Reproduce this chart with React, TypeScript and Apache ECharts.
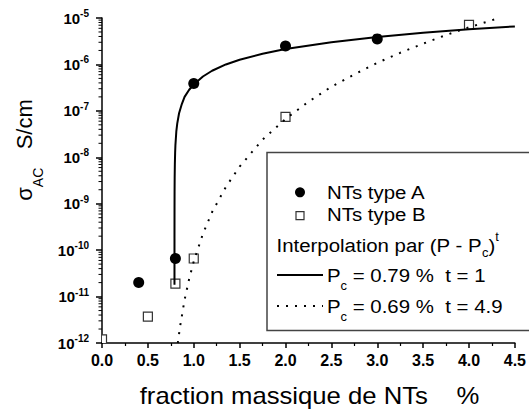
import React, { useEffect, useRef } from "react";
import * as echarts from "echarts";

// ---------- data ----------
const typeAX = [0.4, 0.8, 1.0, 2.0, 3.0];
const typeAY = [2.0e-11, 6.6e-11, 3.9e-7, 2.5e-6, 3.55e-6];

const typeBX = [0.0, 0.5, 0.8, 1.0, 2.0, 4.0];
const typeBY = [1.2e-12, 3.7e-12, 1.9e-11, 6.6e-11, 7.4e-8, 7.1e-6];

// solid fit curve (Pc = 0.79 %, t = 1)
const fitAX = [0.79001, 0.7901, 0.7905, 0.791, 0.792, 0.794, 0.797, 0.8, 0.81, 0.82, 0.84, 0.87, 0.9, 0.95, 1.0, 1.1, 1.2, 1.35, 1.5, 1.75, 2.0, 2.5, 3.0, 3.5, 4.0, 4.5];
const fitAY = [1.8e-11, 1.8e-10, 8.9e-10, 1.8e-9, 3.6e-9, 7.1e-9, 1.25e-8, 1.8e-8, 3.6e-8, 5.3e-8, 8.9e-8, 1.4e-7, 2.0e-7, 2.85e-7, 3.7e-7, 5.5e-7, 7.3e-7, 1.0e-6, 1.26e-6, 1.7e-6, 2.15e-6, 3.0e-6, 3.9e-6, 4.8e-6, 5.7e-6, 6.6e-6];

// dotted fit curve (Pc = 0.69 %, t = 4.9)
const fitBX = [0.826, 0.85, 0.9, 0.95, 1.0, 1.1, 1.2, 1.35, 1.5, 1.75, 2.0, 2.25, 2.5, 2.75, 3.0, 3.25, 3.5, 3.75, 4.0, 4.3];
const fitBY = [1.0e-12, 2.2e-12, 8.5e-12, 2.4e-11, 5.7e-11, 2.25e-10, 6.6e-10, 2.3e-9, 6.3e-9, 2.4e-8, 6.7e-8, 1.57e-7, 3.3e-7, 6.1e-7, 1.08e-6, 1.78e-6, 2.8e-6, 4.3e-6, 6.3e-6, 9.6e-6];

const xTickLabels = ["0.0", "0.5", "1.0", "1.5", "2.0", "2.5", "3.0", "3.5", "4.0", "4.5"];
const yDecades = [-12, -11, -10, -9, -8, -7, -6, -5];
const minorMultipliers = [2, 3, 4, 5, 6, 7, 8, 9];

const FONT = '"Liberation Sans", Arial, Helvetica, sans-serif';
const LEGEND_SCALE = 1.075;

export default function App() {
  const ref = useRef<HTMLDivElement>(null);

  useEffect(() => {
    if (!ref.current) return;
    const chart = echarts.init(ref.current, null, { renderer: "svg" });

    // minor (log) tick positions of the y axis: 2..9 x 10^d
    const minorY: number[] = [];
    yDecades.slice(0, -1).forEach((d) => {
      minorMultipliers.forEach((m) => minorY.push(Number((m * Math.pow(10, d)).toPrecision(3))));
    });

    const legendText = (x: number, y: number, text: string, rich?: any) => ({
      type: "text",
      z: 101,
      x,
      y,
      scaleX: LEGEND_SCALE,
      style: {
        text,
        fontSize: 19,
        fontFamily: FONT,
        fill: "#000",
        align: "left",
        verticalAlign: "middle",
        rich,
      },
    });

    const subRich = {
      m: { fontSize: 19, fontFamily: FONT, lineHeight: 34, verticalAlign: "middle", fill: "#000" },
      sub: { fontSize: 12, fontFamily: FONT, lineHeight: 12, verticalAlign: "bottom", fill: "#000" },
    };

    const option: any = {
      animation: false,
      backgroundColor: "#fff",
      grid: { left: 102, top: 18, width: 415, height: 325 },
      xAxis: {
        type: "value",
        min: 0,
        max: 4.5,
        interval: 0.5,
        splitLine: { show: false },
        axisLine: { show: true, onZero: false, lineStyle: { color: "#000", width: 1.5 } },
        axisTick: { show: true, inside: false, length: 5, lineStyle: { color: "#000", width: 1.5 } },
        minorTick: { show: true, splitNumber: 2, length: 3, lineStyle: { color: "#000", width: 1.2 } },
        minorSplitLine: { show: false },
        axisLabel: {
          margin: 9,
          color: "#000",
          fontFamily: FONT,
          fontWeight: "bold",
          fontSize: 16,
          formatter: (v: number) => xTickLabels[Math.round(v / 0.5)] ?? "",
        },
      },
      yAxis: {
        type: "log",
        logBase: 10,
        min: 1e-12,
        max: 1e-5,
        splitLine: { show: false },
        axisLine: { show: true, onZero: false, lineStyle: { color: "#000", width: 1.5 } },
        axisTick: { show: true, inside: false, length: 6, lineStyle: { color: "#000", width: 1.5 } },
        axisLabel: {
          margin: 13,
          color: "#000",
          fontSize: 15,
          fontWeight: "bold",
          fontFamily: FONT,
          formatter: (v: number) => {
            const e = Math.round(Math.log10(v));
            return `{b|10}{s|${e}}`;
          },
          rich: {
            b: { fontSize: 15, fontWeight: "bold", fontFamily: FONT, color: "#000", lineHeight: 19, verticalAlign: "middle" },
            s: { fontSize: 10, fontWeight: "bold", fontFamily: FONT, color: "#000", lineHeight: 10, verticalAlign: "top" },
          },
        },
      },
      series: [
        {
          name: "minor ticks",
          type: "custom",
          coordinateSystem: "cartesian2d",
          clip: false,
          silent: true,
          data: minorY.map((v) => [0, v]),
          renderItem: (params: any, api: any) => {
            const p = api.coord([api.value(0), api.value(1)]);
            return {
              type: "line",
              shape: { x1: p[0] - 3.5, y1: p[1], x2: p[0], y2: p[1] },
              style: { stroke: "#000", lineWidth: 1 },
            };
          },
        },
        {
          name: "NTs type B",
          type: "custom",
          coordinateSystem: "cartesian2d",
          clip: true,
          data: typeBX.map((x, i) => [x, typeBY[i]]),
          renderItem: (params: any, api: any) => {
            const p = api.coord([api.value(0), api.value(1)]);
            return {
              type: "rect",
              shape: { x: p[0] - 4.5, y: p[1] - 4.5, width: 9, height: 9 },
              style: { fill: "#fff", stroke: "#333", lineWidth: 1.2 },
            };
          },
        },
        {
          name: "Pc = 0.79 %",
          type: "line",
          data: fitAX.map((x, i) => [x, fitAY[i]]),
          showSymbol: false,
          symbol: "none",
          clip: true,
          lineStyle: { color: "#000", width: 2 },
        },
        {
          name: "Pc = 0.69 %",
          type: "line",
          data: fitBX.map((x, i) => [x, fitBY[i]]),
          showSymbol: false,
          symbol: "none",
          clip: true,
          lineStyle: { color: "#000", width: 2, type: [2, 7], cap: "butt" },
        },
        {
          name: "NTs type A",
          type: "scatter",
          data: typeAX.map((x, i) => [x, typeAY[i]]),
          symbol: "circle",
          symbolSize: 11,
          itemStyle: { color: "#000", opacity: 1 },
        },
      ],
      graphic: [
        // y axis title
        {
          type: "text",
          x: 24.5,
          y: 150,
          rotation: Math.PI / 2,
          style: {
            text: "{m|σ}{sub|AC}{m|   S/cm}",
            align: "center",
            verticalAlign: "middle",
            fill: "#000",
            rich: {
              m: { fontSize: 22, fontFamily: FONT, lineHeight: 40, verticalAlign: "middle", fill: "#000" },
              sub: { fontSize: 14, fontFamily: FONT, lineHeight: 14, verticalAlign: "bottom", fill: "#000" },
            },
          },
        },
        // x axis title
        {
          type: "text",
          x: 309.5,
          y: 395.5,
          scaleX: 1.07,
          style: {
            text: "fraction massique de NTs    %",
            fontSize: 24,
            fontFamily: FONT,
            align: "center",
            verticalAlign: "middle",
            fill: "#000",
          },
        },
        // legend box
        {
          type: "rect",
          z: 100,
          shape: { x: 267, y: 152.5, width: 300, height: 178 },
          style: { fill: "#fff", stroke: "#444", lineWidth: 1.5 },
        },
        {
          type: "circle",
          z: 101,
          shape: { cx: 300, cy: 192.3, r: 5 },
          style: { fill: "#000" },
        },
        {
          type: "rect",
          z: 101,
          shape: { x: 296, y: 211.7, width: 8, height: 8 },
          style: { fill: "#fff", stroke: "#333", lineWidth: 1.2 },
        },
        legendText(327, 192, "NTs type A"),
        legendText(327, 214, "NTs type B"),
        legendText(276.5, 245, "{m|Interpolation par (P - P}{sub|c}{m|)}{sup|t}", {
          m: { fontSize: 19, fontFamily: FONT, lineHeight: 28, verticalAlign: "middle", fill: "#000" },
          sub: { fontSize: 12, fontFamily: FONT, lineHeight: 12, verticalAlign: "bottom", fill: "#000" },
          sup: { fontSize: 12, fontFamily: FONT, lineHeight: 12, verticalAlign: "top", fill: "#000" },
        }),
        {
          type: "line",
          z: 101,
          shape: { x1: 277, y1: 275, x2: 323, y2: 275 },
          style: { stroke: "#000", lineWidth: 2 },
        },
        legendText(327, 275, "{m|P}{sub|c}{m| = 0.79 %  t = 1}", subRich),
        {
          type: "line",
          z: 101,
          shape: { x1: 277, y1: 306, x2: 323, y2: 306 },
          style: { stroke: "#000", lineWidth: 2, lineDash: [2, 7] },
        },
        legendText(327, 306, "{m|P}{sub|c}{m| = 0.69 %  t = 4.9}", subRich),
      ],
    };

    chart.setOption(option);
    return () => chart.dispose();
  }, []);

  return (
    <div
      ref={ref}
      style={{ position: "absolute", left: 0, top: 0, width: 529, height: 410, background: "#fff" }}
    />
  );
}
